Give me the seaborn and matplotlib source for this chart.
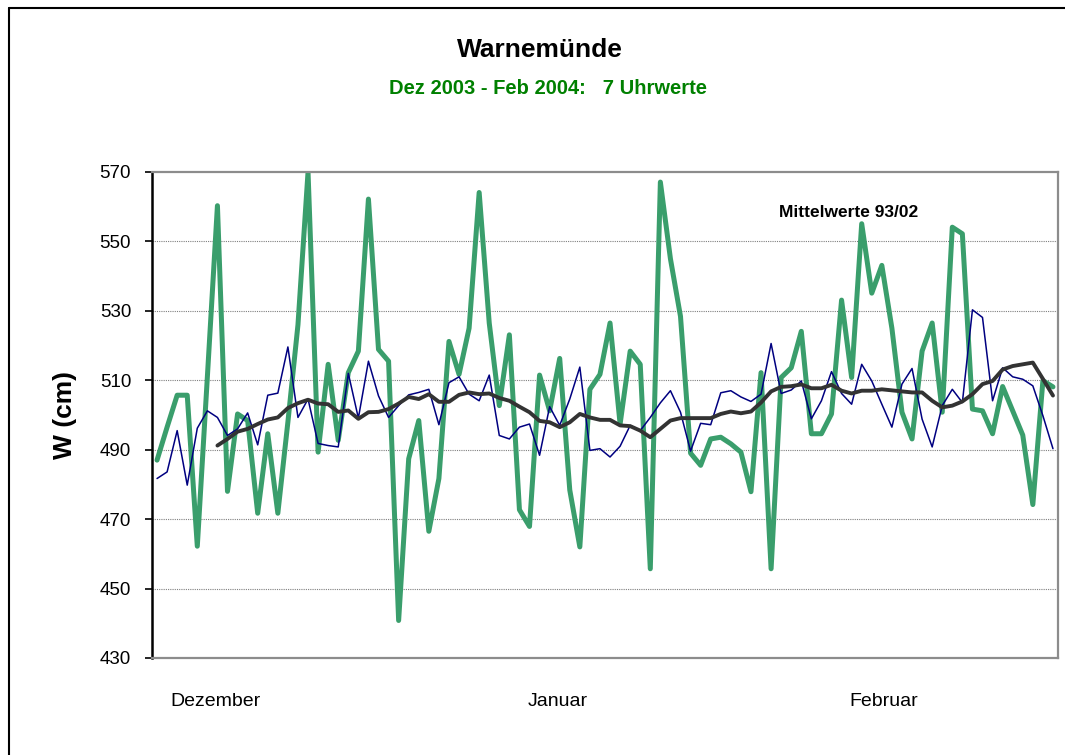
"""
Warnemünde water level, Dec 2003 - Feb 2004 (7 o'clock values).
"""

import numpy as np
import pandas as pd
import matplotlib
matplotlib.use("Agg")
import matplotlib.pyplot as plt
import seaborn as sns
from matplotlib.lines import Line2D


# --- data ----------------------------------------------------------------
days = list(range(90))  # 1 Dec 2003 .. 28 Feb 2004

uhr7 = [
    487.0, 496.5, 505.7, 505.7, 462.2, 511.0, 560.3, 478.0, 500.3, 498.4,
    471.7, 494.6, 471.7, 498.0, 526.0, 570.0, 489.3, 514.6, 492.7, 512.2,
    518.4, 562.2, 518.9, 515.5, 440.8, 487.4, 498.4, 466.5, 481.7, 521.2,
    511.7, 525.0, 564.1, 526.5, 502.7, 523.1, 472.7, 467.9, 511.5, 501.2,
    516.3, 478.4, 462.0, 507.4, 511.7, 526.5, 497.4, 518.4, 514.6, 455.7,
    567.1, 545.0, 528.4, 489.0, 485.5, 493.1, 493.6, 491.7, 489.3, 477.9,
    512.2, 455.7, 510.8, 513.6, 524.1, 494.6, 494.6, 500.3, 533.1, 510.8,
    555.1, 535.1, 543.1, 525.0, 500.8, 493.1, 518.4, 526.5, 500.8, 554.1,
    552.2, 501.7, 501.2, 494.6, 508.2, 501.2, 494.2, 474.2, 509.9, 508.1,
]

tagesmittel = [
    481.7, 483.6, 495.5, 479.8, 496.2, 501.2, 499.3, 494.1, 496.0, 500.6,
    491.4, 505.7, 506.3, 519.6, 499.3, 504.6, 491.8, 491.2, 490.8, 512.0,
    499.1, 515.5, 505.5, 499.3, 502.7, 505.8, 506.5, 507.4, 497.2, 509.3,
    511.0, 506.0, 504.1, 511.5, 494.1, 493.1, 496.5, 497.4, 488.4, 502.4,
    497.0, 504.6, 513.8, 489.8, 490.3, 487.9, 491.0, 497.0, 495.5, 499.3,
    503.5, 507.0, 500.8, 489.6, 497.6, 497.2, 506.4, 507.0, 505.2, 503.9,
    506.0, 520.6, 506.2, 507.2, 509.8, 498.9, 504.1, 512.5, 506.2, 503.1,
    514.6, 509.8, 503.1, 496.5, 508.9, 513.4, 498.8, 490.8, 502.7, 507.4,
    503.6, 530.3, 528.1, 504.1, 513.6, 511.0, 510.3, 508.4, 499.8, 490.3,
]

mittel_93_02 = [
    np.nan, np.nan, np.nan, np.nan, np.nan, np.nan, 491.2, 493.1, 495.2, 496.0,
    497.4, 498.7, 499.3, 502.0, 503.4, 504.4, 503.3, 503.1, 500.9, 501.3,
    498.9, 500.8, 500.9, 501.7, 503.3, 505.2, 504.6, 506.0, 503.8, 503.8,
    505.8, 506.5, 506.0, 506.2, 504.9, 504.1, 502.4, 500.8, 498.3, 497.9,
    496.5, 497.9, 500.3, 499.3, 498.6, 498.6, 497.0, 496.8, 495.5, 493.6,
    496.0, 498.4, 499.1, 499.1, 499.1, 499.1, 500.3, 501.0, 500.5, 501.0,
    503.6, 506.8, 508.1, 508.3, 508.8, 507.7, 507.7, 508.7, 507.0, 506.2,
    507.0, 507.0, 507.4, 507.1, 506.8, 506.5, 506.5, 504.1, 502.2, 502.7,
    503.9, 506.0, 508.9, 509.8, 513.1, 514.1, 514.6, 515.1, 510.4, 505.6,
]

month_labels = ["Dezember", "Januar", "Februar"]
month_ticks = [5.8, 39.8, 72.2]
y_ticks = [430, 450, 470, 490, 510, 530, 550, 570]

df = pd.DataFrame({
    "tag": days,
    "uhr7": uhr7,
    "tagesmittel": tagesmittel,
    "mittel": mittel_93_02,
})

# --- style ---------------------------------------------------------------
sns.set_style("white")
plt.rcParams.update({
    "font.family": ["Liberation Sans", "DejaVu Sans"],
    "text.color": "black",
    "axes.labelcolor": "black",
    "xtick.color": "black",
    "ytick.color": "black",
})

fig = plt.figure(figsize=(10.65, 7.55), dpi=100)
ax = fig.add_axes([152 / 1065, 1 - 658 / 755, 906 / 1065, 486 / 755])

# dotted horizontal grid
for v in y_ticks[1:-1]:
    ax.axhline(v, color="#7f7f7f", linestyle=(0, (1, 1)), linewidth=0.8, zorder=0)

sns.lineplot(data=df, x="tag", y="uhr7", ax=ax, color="#3a9e6c",
             linewidth=3.6, zorder=2)
sns.lineplot(data=df, x="tag", y="tagesmittel", ax=ax, color="#000080",
             linewidth=1.1, zorder=3)
sns.lineplot(data=df.dropna(), x="tag", y="mittel", ax=ax, color="#333333",
             linewidth=2.8, zorder=4)

ax.set_xlim(-0.5, 89.5)
ax.set_ylim(430, 570)
ax.set_yticks(y_ticks)
ax.set_xticks(month_ticks)
ax.set_xticklabels(month_labels)

ax.tick_params(axis="y", which="major", direction="out", length=5, width=1.2,
               pad=10, labelsize=13.5, color="black", left=True)
ax.tick_params(axis="x", which="major", length=0, pad=25, labelsize=14)

for side in ["top", "right", "bottom"]:
    ax.spines[side].set_color("#8c8c8c")
    ax.spines[side].set_linewidth(1.6)
ax.spines["left"].set_color("black")
ax.spines["left"].set_linewidth(1.8)

ax.set_xlabel("")
ax.set_ylabel("W (cm)", fontsize=19, fontweight="bold", labelpad=16)

ax.text(68.7, 558.2, "Mittelwerte 93/02", fontsize=12.5, fontweight="bold",
        ha="center", va="center", zorder=5)

fig.text(0.507, 1 - 50 / 755, "Warnemünde", ha="center", va="center",
         fontsize=19, fontweight="bold")
fig.text(0.515, 1 - 89 / 755, "Dez 2003 - Feb 2004:   7 Uhrwerte",
         ha="center", va="center", fontsize=14.5, fontweight="bold",
         color="#008000")

# chart area border (left and top edges visible in the reference)
fig.add_artist(Line2D([8.5 / 1065, 8.5 / 1065], [0, 1 - 8 / 755],
                      color="black", linewidth=1.5, transform=fig.transFigure))
fig.add_artist(Line2D([8.5 / 1065, 1], [1 - 8 / 755, 1 - 8 / 755],
                      color="black", linewidth=1.5, transform=fig.transFigure))

fig.savefig("out.png", dpi=100)
plt.close(fig)
